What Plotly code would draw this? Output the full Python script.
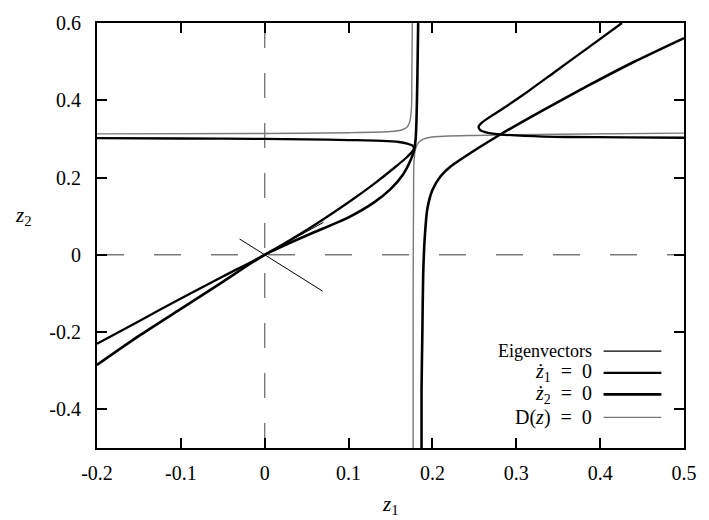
import plotly.graph_objects as go

# ---------------- data ----------------
x_ticks = [-0.2, -0.1, 0.0, 0.1, 0.2, 0.3, 0.4, 0.5]
x_tick_labels = ["-0.2", "-0.1", "0", "0.1", "0.2", "0.3", "0.4", "0.5"]
y_ticks = [-0.4, -0.2, 0.0, 0.2, 0.4, 0.6]
y_tick_labels = ["-0.4", "-0.2", "0", "0.2", "0.4", "0.6"]

# eigenvectors at the origin (two short segments)
eig1_x = [-0.032, 0.070]
eig1_y = [-0.038, 0.084]
eig2_x = [-0.030, 0.069]
eig2_y = [0.041, -0.094]

# z1-dot = 0 : left branch (diagonal, hairpin, horizontal to the left)
z1a_x = [-0.2, -0.15, -0.1, -0.05, 0.0, 0.05, 0.1, 0.13, 0.155, 0.168, 0.175, 0.178,
         0.176, 0.170, 0.160, 0.14, 0.10, 0.05, 0.0, -0.1, -0.2]
z1a_y = [-0.23, -0.172, -0.113, -0.056, 0.0, 0.064, 0.136, 0.183, 0.226, 0.250, 0.265, 0.276,
         0.283, 0.288, 0.292, 0.295, 0.297, 0.299, 0.300, 0.301, 0.302]
# z1-dot = 0 : right branch (hairpin)
z1b_x = [0.426, 0.385, 0.345, 0.31, 0.285, 0.268, 0.259, 0.255, 0.257, 0.264, 0.28, 0.31,
         0.36, 0.43, 0.5]
z1b_y = [0.6, 0.535, 0.472, 0.417, 0.38, 0.356, 0.342, 0.331, 0.323, 0.317, 0.312, 0.308,
         0.305, 0.304, 0.303]

# z2-dot = 0 : left branch (diagonal, then vertical to the top)
z2a_x = [-0.2, -0.15, -0.1, -0.05, 0.0, 0.05, 0.1, 0.13, 0.15, 0.165, 0.173, 0.178, 0.180,
         0.181, 0.182, 0.183]
z2a_y = [-0.285, -0.21, -0.14, -0.07, 0.0, 0.05, 0.097, 0.135, 0.17, 0.208, 0.24, 0.27, 0.30,
         0.35, 0.45, 0.6]
# z2-dot = 0 : right branch (vertical from the bottom, then diagonal)
z2b_x = [0.187, 0.187, 0.188, 0.189, 0.191, 0.194, 0.200, 0.210, 0.222, 0.25, 0.283, 0.33,
         0.385, 0.44, 0.5]
z2b_y = [-0.5, -0.35, -0.2, -0.05, 0.05, 0.12, 0.168, 0.204, 0.229, 0.27, 0.314, 0.372,
         0.437, 0.499, 0.561]

# D(z) = 0 : two branches
d_a_x = [-0.2, 0.0, 0.1, 0.15, 0.163, 0.170, 0.173, 0.175, 0.1755, 0.176]
d_a_y = [0.313, 0.314, 0.316, 0.319, 0.323, 0.331, 0.345, 0.38, 0.47, 0.6]
d_b_x = [0.177, 0.177, 0.1775, 0.178, 0.180, 0.184, 0.190, 0.200, 0.25, 0.35, 0.5]
d_b_y = [-0.5, -0.1, 0.15, 0.24, 0.275, 0.292, 0.300, 0.305, 0.309, 0.312, 0.315]

SP = "\u2002"
legend_labels = ["Eigenvectors",
                 "<i>ż</i><sub>1</sub>" + SP + "=" + SP + "0",
                 "<i>ż</i><sub>2</sub>" + SP + "=" + SP + "0",
                 "D(<i>z</i>)" + SP + "=" + SP + "0"]

# ---------------- figure ----------------
FONT = "Liberation Serif"
fig = go.Figure()

gray = "#7a7a7a"
def add(x, y, color, width):
    fig.add_trace(go.Scatter(x=x, y=y, mode="lines", showlegend=False, hoverinfo="skip",
                             line=dict(color=color, width=width, shape="spline", smoothing=0.7)))

add(d_a_x, d_a_y, gray, 1.4)
add(d_b_x, d_b_y, gray, 1.4)
add(eig1_x, eig1_y, "black", 1.0)
add(eig2_x, eig2_y, "black", 1.0)
add(z1a_x, z1a_y, "black", 2.3)
add(z1b_x, z1b_y, "black", 2.3)
add(z2a_x, z2a_y, "black", 2.6)
add(z2b_x, z2b_y, "black", 2.6)

# dashed coordinate axes
fig.add_shape(type="line", xref="x", yref="y", x0=x_ticks[0], x1=x_ticks[-1], y0=0, y1=0,
              line=dict(color=gray, width=1.4, dash="27px,30px"), layer="below")
fig.add_shape(type="line", xref="x", yref="y", x0=0, x1=0, y0=y_ticks[-1], y1=-0.5,
              line=dict(color=gray, width=1.4, dash="25px,25px"), layer="below")

# legend drawn by hand (text right, sample on the right)
leg_y = [0.228, 0.177, 0.126, 0.072]
leg_col = ["black", "black", "black", gray]
leg_w = [1.2, 2.3, 2.8, 1.4]
leg_size = [18, 20, 20, 20]
for lab, yy, c, w, s in zip(legend_labels, leg_y, leg_col, leg_w, leg_size):
    fig.add_annotation(xref="paper", yref="paper", x=0.846, y=yy, text=lab, showarrow=False,
                       xanchor="right", yanchor="middle", font=dict(family=FONT, size=s, color="black"))
    fig.add_shape(type="line", xref="paper", yref="paper", x0=0.863, x1=0.9615, y0=yy, y1=yy,
                  line=dict(color=c, width=w))

axis_common = dict(showline=True, linecolor="black", linewidth=2, mirror="allticks",
                   ticks="inside", ticklen=10, tickwidth=2, tickcolor="black",
                   showgrid=False, zeroline=False,
                   tickfont=dict(family=FONT, size=20, color="black"))

fig.update_xaxes(range=[x_ticks[0], x_ticks[-1]], tickvals=x_ticks, ticktext=x_tick_labels,
                 ticklabelstandoff=6, **axis_common)
fig.update_yaxes(range=[-0.5, 0.6], tickvals=y_ticks, ticktext=y_tick_labels,
                 ticklabelstandoff=10, **axis_common)

fig.add_annotation(xref="paper", yref="paper", x=0.5, y=-0.133, text="<i>z</i><sub>1</sub>",
                   showarrow=False, xanchor="center", yanchor="middle",
                   font=dict(family=FONT, size=21, color="black"))
fig.add_annotation(xref="paper", yref="paper", x=-0.125, y=0.545, text="<i>z</i><sub>2</sub>",
                   showarrow=False, xanchor="center", yanchor="middle",
                   font=dict(family=FONT, size=21, color="black"))

fig.update_layout(width=709, height=520, margin=dict(l=97, r=14, t=17, b=72),
                  plot_bgcolor="white", paper_bgcolor="white", showlegend=False)

fig.write_html("out.html")
